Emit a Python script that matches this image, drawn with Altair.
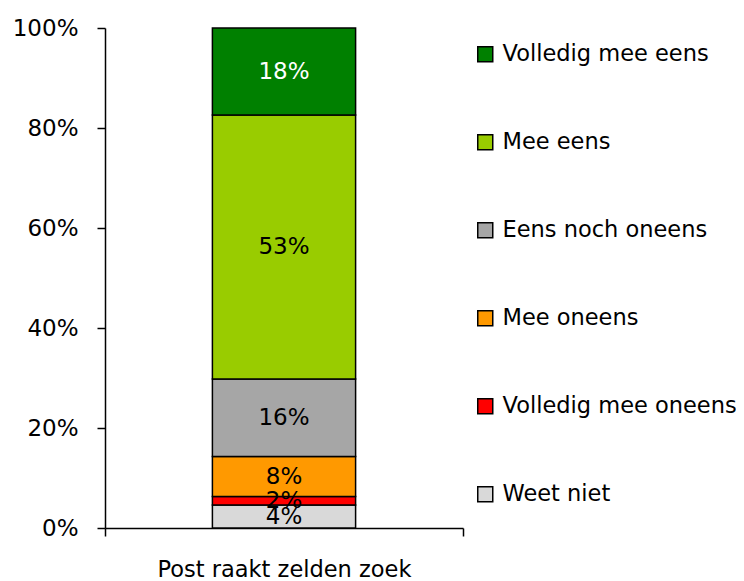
import altair as alt
import pandas as pd

category = "Post raakt zelden zoek"
# bottom to top of the stack
answers = ["Weet niet", "Volledig mee oneens", "Mee oneens", "Eens noch oneens", "Mee eens", "Volledig mee eens"]
values = [4.6, 1.7, 8.0, 15.5, 52.8, 17.4]
labels = ["4%", "2%", "8%", "16%", "53%", "18%"]
colors = ["#D9D9D9", "#FF0000", "#FF9900", "#A6A6A6", "#99CC00", "#008000"]

df = pd.DataFrame({
    "category": [category] * len(answers),
    "answer": answers,
    "value": values,
    "label": labels,
    "order": list(range(len(answers))),
})

FONT = "DejaVu Sans"

base = alt.Chart(df).transform_stack(
    stack="value", as_=["y0", "y1"], groupby=["category"],
    sort=[alt.SortField("order", order="ascending")]
).transform_calculate(mid="(datum.y0 + datum.y1) / 2")

x_enc = alt.X(
    "category:N",
    scale=alt.Scale(paddingInner=0, paddingOuter=0),
    axis=alt.Axis(title=None, labelAngle=0, tickBand="extent", tickSize=8,
                  labelPadding=22, labelFontSize=22.5, labelFont=FONT, labelLimit=500,
                  labelColor="black", domainColor="black", tickColor="black",
                  domainWidth=1.5, tickWidth=1.5),
)

bars = base.mark_bar(stroke="black", strokeWidth=1.5, width=alt.RelativeBandSize(0.4)).encode(
    x=x_enc,
    y=alt.Y("y0:Q", scale=alt.Scale(domain=[0, 100], nice=False),
            axis=alt.Axis(title=None, values=[0, 20, 40, 60, 80, 100], grid=False,
                          labelExpr="datum.value + '%'", tickSize=8, labelPadding=19,
                          labelFontSize=23, labelFont=FONT, labelColor="black",
                          domainColor="black", tickColor="black",
                          domainWidth=1.5, tickWidth=1.5)),
    y2="y1:Q",
    color=alt.Color("answer:N",
                    scale=alt.Scale(domain=answers[::-1], range=colors[::-1]),
                    legend=alt.Legend(orient="none", legendX=369, legendY=15, title=None,
                                      symbolType="square", symbolSize=225,
                                      symbolStrokeColor="black", symbolStrokeWidth=1.5,
                                      labelFontSize=22.5, labelFont=FONT, labelColor="black",
                                      labelLimit=0, rowPadding=65, labelOffset=6, padding=0)),
)

text = base.mark_text(fontSize=23, font=FONT).encode(
    x=alt.X("category:N"),
    y=alt.Y("mid:Q"),
    text="label:N",
    color=alt.condition(alt.datum.answer == "Volledig mee eens", alt.value("white"), alt.value("black")),
)

chart = alt.layer(bars, text).properties(
    width=358, height=500,
    autosize=alt.AutoSizeParams(type="none"),
    padding={"left": 97, "top": 20, "right": 273, "bottom": 53},
).configure_view(stroke=None)

chart.save("out.html", embed_options={"renderer": "svg", "actions": False})
